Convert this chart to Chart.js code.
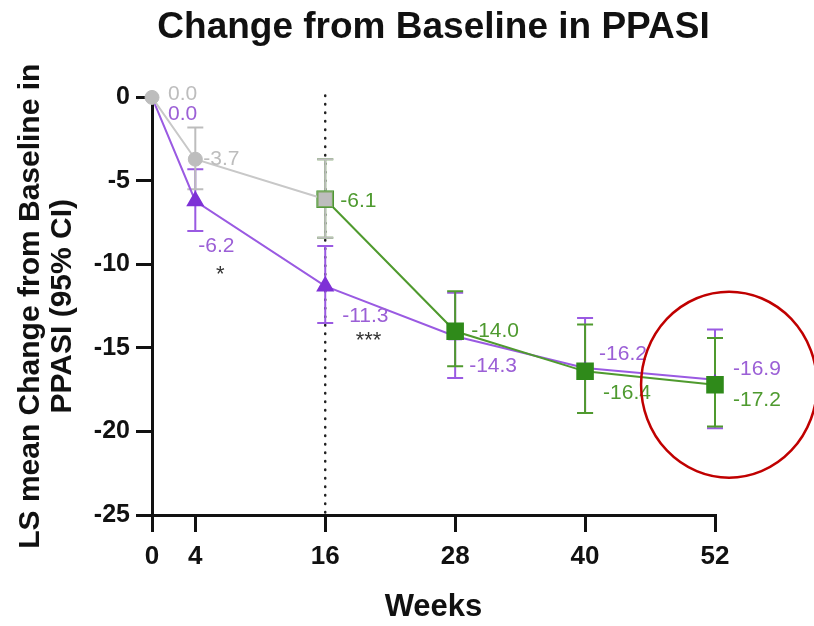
<!DOCTYPE html>
<html>
<head>
<meta charset="utf-8">
<script src="https://cdn.jsdelivr.net/npm/chart.js@4.4.1/dist/chart.umd.min.js"></script>
<style>
  html, body { margin: 0; padding: 0; background: #fff; }
  #wrap { width: 814px; height: 626px; }
</style>
</head>
<body>
<div id="wrap"><canvas id="chart" width="814" height="626"></canvas></div>
<script>
// weeks shown on the x axis
const weekTicks = [0, 4, 16, 28, 40, 52];

// placebo arm (switches at week 16)
const placeboWeeks = [0, 4, 16];
const placeboMean = [0.0, -3.7, -6.1];
const placeboLow = [null, -5.5, -8.4];
const placeboHigh = [null, -1.8, -3.7];

// active arm from baseline
const activeWeeks = [0, 4, 16, 28, 40, 52];
const activeMean = [0.0, -6.2, -11.3, -14.3, -16.2, -16.9];
const activeLow = [null, -8.0, -13.5, -16.8, -18.9, -19.8];
const activeHigh = [null, -4.3, -8.9, -11.7, -13.2, -13.9];

// placebo -> active from week 16
const switchWeeks = [16, 28, 40, 52];
const switchMean = [-6.1, -14.0, -16.4, -17.2];
const switchLow = [-8.4, -16.1, -18.9, -19.7];
const switchHigh = [-3.7, -11.6, -13.6, -14.4];

// significance marks (week, value)
const sigMarks = [
  { week: 6.3, value: -10.6, text: "*" },
  { week: 20, value: -14.6, text: "***" },
];
const cutoffWeek = 16;
const highlightWeek = 53.3;
const highlightValue = -17.2;

const FONT = "'Liberation Sans', Arial, Helvetica, sans-serif";
const GRAY = "#bdbdbd";
const PURPLE = "#7e31d6";
const PURPLE_LINE = "#9a5ae2";
const PURPLE_TEXT = "#9b5fd6";
const GREEN = "#2f8a1a";
const GREEN_LINE = "#4f9a2e";
const GREEN_TEXT = "#4e9a2f";

// pixel offsets of the value labels, per point
const placeboLabelPos = [[16, -3], [8, 0], null];
const activeLabelPos = [[16, 17], [3, 45], [17, 30], [14, 30], [14, -14], [18, -10]];
const switchLabelPos = [[15, 2], [16, 0], [18, 22], [18, 15]];

function toPoints(xs, ys) {
  return xs.map((x, i) => ({ x: x, y: ys[i] }));
}

const errorBars = {
  id: "errorBars",
  beforeDatasetsDraw(chart) {
    const { ctx, chartArea, scales: { x, y } } = chart;
    ctx.save();
    // dotted line at the switch week
    const cx = x.getPixelForValue(cutoffWeek);
    ctx.strokeStyle = "#222";
    ctx.lineWidth = 2.5;
    ctx.lineCap = "round";
    ctx.setLineDash([0.5, 8]);
    ctx.beginPath();
    ctx.moveTo(cx, chartArea.top - 2);
    ctx.lineTo(cx, chartArea.bottom);
    ctx.stroke();
    ctx.setLineDash([]);
    ctx.lineCap = "butt";

    const drawOrder = [1, 2, 0];
    drawOrder.forEach((di) => {
      const ds = chart.data.datasets[di];
      ctx.strokeStyle = ds.barColor;
      ctx.lineWidth = 2;
      ds.data.forEach((p, i) => {
        if (ds.errLow[i] == null) return;
        const px = x.getPixelForValue(p.x);
        const lo = y.getPixelForValue(ds.errLow[i]);
        const hi = y.getPixelForValue(ds.errHigh[i]);
        ctx.beginPath();
        ctx.moveTo(px, lo);
        ctx.lineTo(px, hi);
        ctx.moveTo(px - 8, lo);
        ctx.lineTo(px + 8, lo);
        ctx.moveTo(px - 8, hi);
        ctx.lineTo(px + 8, hi);
        ctx.stroke();
      });
    });
    ctx.restore();
  },
  afterDatasetsDraw(chart) {
    const { ctx, scales: { x, y } } = chart;
    ctx.save();
    ctx.font = "21px " + FONT;
    ctx.textAlign = "left";
    ctx.textBaseline = "middle";
    chart.data.datasets.forEach((ds) => {
      ds.data.forEach((p, i) => {
        const off = ds.labelPos[i];
        if (!off) return;
        ctx.fillStyle = ds.labelColor;
        ctx.fillText(p.y.toFixed(1), x.getPixelForValue(p.x) + off[0], y.getPixelForValue(p.y) + off[1]);
      });
    });
    ctx.fillStyle = "#333";
    ctx.font = "22px " + FONT;
    ctx.textAlign = "center";
    sigMarks.forEach((m) => {
      ctx.fillText(m.text, x.getPixelForValue(m.week), y.getPixelForValue(m.value));
    });
    ctx.restore();
  },
  afterDraw(chart) {
    const { ctx, scales: { x, y } } = chart;
    ctx.save();
    ctx.strokeStyle = "#c00000";
    ctx.lineWidth = 2.5;
    ctx.beginPath();
    ctx.ellipse(x.getPixelForValue(highlightWeek), y.getPixelForValue(highlightValue), 88, 93, 0, 0, Math.PI * 2);
    ctx.stroke();
    ctx.restore();
  },
};

new Chart(document.getElementById("chart"), {
  type: "line",
  data: {
    datasets: [
      {
        label: "Placebo",
        data: toPoints(placeboWeeks, placeboMean),
        errLow: placeboLow,
        errHigh: placeboHigh,
        barColor: GRAY,
        labelColor: GRAY,
        labelPos: placeboLabelPos,
        borderColor: "#c8c8c8",
        borderWidth: 2,
        backgroundColor: GRAY,
        pointBackgroundColor: GRAY,
        pointBorderColor: [GRAY, GRAY, "#7aa860"],
        pointBorderWidth: [1, 1, 1.5],
        pointStyle: ["circle", "circle", "rect"],
        pointRadius: [7, 7, 10.5],
        order: 0,
        clip: false,
      },
      {
        label: "Active",
        data: toPoints(activeWeeks, activeMean),
        errLow: activeLow,
        errHigh: activeHigh,
        barColor: PURPLE_LINE,
        labelColor: PURPLE_TEXT,
        labelPos: activeLabelPos,
        borderColor: PURPLE_LINE,
        borderWidth: 2,
        backgroundColor: PURPLE,
        pointBackgroundColor: PURPLE,
        pointBorderColor: PURPLE,
        pointStyle: "triangle",
        // markers hidden behind the other arms are drawn small
        pointRadius: [5, 8.5, 8.5, 6, 5, 4],
        order: 2,
        clip: false,
      },
      {
        label: "Placebo to active",
        data: toPoints(switchWeeks, switchMean),
        errLow: switchLow,
        errHigh: switchHigh,
        barColor: GREEN_LINE,
        labelColor: GREEN_TEXT,
        labelPos: switchLabelPos,
        borderColor: GREEN_LINE,
        borderWidth: 2,
        backgroundColor: GREEN,
        pointBackgroundColor: GREEN,
        pointBorderColor: GREEN,
        pointStyle: "rect",
        pointRadius: 11,
        order: 1,
        clip: false,
      },
    ],
  },
  options: {
    responsive: false,
    animation: false,
    devicePixelRatio: 1,
    layout: { padding: { top: 0, right: 99, bottom: 0, left: 0 } },
    elements: { line: { tension: 0 } },
    plugins: {
      legend: { display: false },
      tooltip: { enabled: false },
      title: {
        display: true,
        text: "Change from Baseline in PPASI",
        fullSize: false,
        color: "#111",
        font: { family: FONT, size: 37, weight: "bold", lineHeight: 1.2 },
        padding: { top: 6, bottom: 47 },
      },
    },
    scales: {
      x: {
        type: "linear",
        min: 0,
        max: 52,
        afterBuildTicks: (axis) => {
          axis.ticks = weekTicks.map((v) => ({ value: v }));
        },
        afterFit: (axis) => {
          axis.height = 111;
        },
        ticks: {
          color: "#111",
          padding: 9,
          font: { family: FONT, size: 26, weight: "bold" },
        },
        grid: {
          display: true,
          drawOnChartArea: false,
          drawTicks: true,
          tickLength: 17,
          color: "#111",
          lineWidth: 3,
        },
        border: { display: true, color: "#111", width: 3 },
        title: {
          display: true,
          text: "Weeks",
          color: "#111",
          font: { family: FONT, size: 31, weight: "bold", lineHeight: 1.2 },
          padding: { top: 0, bottom: 0 },
        },
      },
      y: {
        min: -25,
        max: 0,
        afterFit: (axis) => {
          axis.width = 152;
        },
        ticks: {
          stepSize: 5,
          color: "#111",
          padding: 6,
          font: { family: FONT, size: 25, weight: "bold" },
        },
        grid: {
          display: true,
          drawOnChartArea: false,
          drawTicks: true,
          tickLength: 16,
          color: "#111",
          lineWidth: 3,
        },
        border: { display: true, color: "#111", width: 3 },
        title: {
          display: true,
          text: ["LS mean Change from Baseline in", "PPASI (95% CI)"],
          color: "#111",
          font: { family: FONT, size: 30, weight: "bold", lineHeight: 1.0667 },
          padding: { top: 15, bottom: 0 },
        },
      },
    },
  },
  plugins: [errorBars],
});
</script>
</body>
</html>
